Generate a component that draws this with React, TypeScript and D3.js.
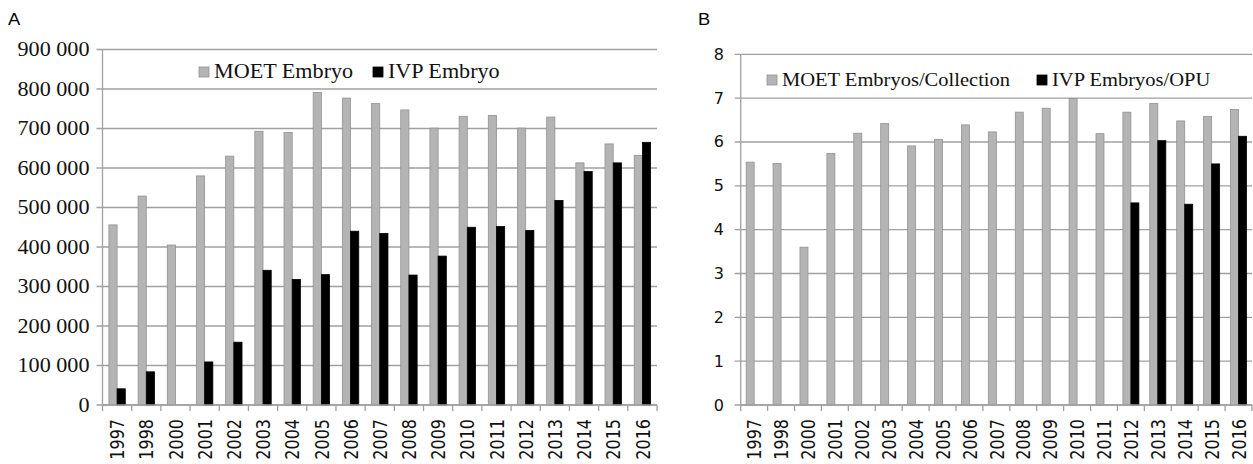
import React from "react";
import * as d3 from "d3";

// ---------- DATA ----------
const years = ["1997","1998","2000","2001","2002","2003","2004","2005","2006","2007","2008","2009","2010","2011","2012","2013","2014","2015","2016"];
const moetEmbryo = [456000, 529000, 405000, 580000, 630000, 693000, 690000, 791000, 777000, 763000, 747000, 701000, 731000, 733000, 701000, 729000, 613000, 661000, 632000];
const ivpEmbryo = [41000, 84000, 0, 109000, 159000, 341000, 318000, 330000, 440000, 434000, 329000, 377000, 450000, 452000, 442000, 518000, 591000, 613000, 665000];
const moetPerCollection = [5.54, 5.51, 3.6, 5.74, 6.2, 6.42, 5.91, 6.06, 6.39, 6.23, 6.68, 6.77, 6.99, 6.19, 6.68, 6.88, 6.48, 6.58, 6.74];
const ivpPerOpu = [null, null, null, null, null, null, null, null, null, null, null, null, null, null, 4.61, 6.03, 4.58, 5.5, 6.13];
const leftTicks = [0, 100000, 200000, 300000, 400000, 500000, 600000, 700000, 800000, 900000];
const rightTicks = [0, 1, 2, 3, 4, 5, 6, 7, 8];
const leftLegend = ["MOET Embryo", "IVP Embryo"];
const rightLegend = ["MOET Embryos/Collection", "IVP Embryos/OPU"];

const GRAY = "#b4b4b4";
const GRAY_EDGE = "#929292";
const GRID = "#a0a0a0";
const SERIF = "'Liberation Serif', 'Times New Roman', serif";
const SANS = "'DejaVu Sans', Verdana, sans-serif";

type PanelProps = {
  label: string;
  labelX: number;
  a: (number | null)[];
  b: (number | null)[];
  ticks: number[];
  fmt: (v: number) => string;
  tickFont: string;
  tickSize: number;
  tickScaleX: number;
  tickLabelX: number;
  left: number;
  right: number;
  top: number;
  bottom: number;
  barW: number;
  legend: string[];
  legendX: number[];
  legendBaseline: number;
  legendSize: number;
};

function Panel(p: PanelProps) {
  const x = d3.scaleBand<string>().domain(years).range([p.left, p.right]).padding(0);
  const y = d3.scaleLinear().domain([p.ticks[0], p.ticks[p.ticks.length - 1]]).range([p.bottom, p.top]);
  const bw = x.bandwidth();
  const boundaries = years.map((d) => x(d)!).concat([p.right]);
  return (
    <g>
      <text x={p.labelX} y={25} fontFamily="'Liberation Sans', Arial, sans-serif" fontSize={17} transform={`translate(${p.labelX},0) scale(1.08,1) translate(${-p.labelX},0)`}>{p.label}</text>
      {/* gridlines */}
      {p.ticks.map((t) => (
        <line key={"g" + t} x1={p.left - 6} x2={p.right} y1={y(t)} y2={y(t)} stroke={GRID} strokeWidth={1.3} />
      ))}
      {/* y axis line */}
      <line x1={p.left} x2={p.left} y1={p.top} y2={p.bottom} stroke={GRID} strokeWidth={1.3} />
      {/* x ticks */}
      {boundaries.map((bx, i) => (
        <line key={"xt" + i} x1={bx} x2={bx} y1={p.bottom} y2={p.bottom + 6} stroke={GRID} strokeWidth={1.3} />
      ))}
      {/* y tick labels */}
      {p.ticks.map((t) => (
        <text key={"yl" + t} transform={`translate(${p.tickLabelX},${y(t)}) scale(${p.tickScaleX},1)`} textAnchor="end" dominantBaseline="central" fontFamily={p.tickFont} fontSize={p.tickSize} fill="#111">{p.fmt(t)}</text>
      ))}
      {/* bars */}
      {years.map((yr, i) => {
        const cx = x(yr)! + bw / 2;
        const va = p.a[i];
        const vb = p.b[i];
        return (
          <g key={"b" + yr}>
            {va != null && va > 0 && (
              <rect x={cx - p.barW} y={y(va)} width={p.barW} height={p.bottom - y(va)} fill={GRAY} stroke={GRAY_EDGE} strokeWidth={0.8} />
            )}
            {vb != null && vb > 0 && (
              <rect x={cx} y={y(vb)} width={p.barW} height={p.bottom - y(vb)} fill="#000" stroke="#000" strokeWidth={0.8} />
            )}
          </g>
        );
      })}
      {/* bottom axis line */}
      <line x1={p.left} x2={p.right} y1={p.bottom} y2={p.bottom} stroke={GRID} strokeWidth={1.3} />
      {/* x labels */}
      {years.map((yr) => (
        <text key={"xl" + yr} transform={`translate(${x(yr)! + bw / 2},419) rotate(-90) scale(0.8,1)`} textAnchor="end" dominantBaseline="central" fontFamily={SANS} fontSize={20} fill="#111">{yr}</text>
      ))}
      {/* legend */}
      {p.legend.map((name, i) => (
        <g key={"lg" + i}>
          <rect x={p.legendX[i]} y={p.legendBaseline - 11} width={10} height={10} fill={i === 0 ? GRAY : "#000"} stroke={i === 0 ? GRAY_EDGE : "#000"} strokeWidth={0.8} />
          <text transform={`translate(${p.legendX[i] + 15},${p.legendBaseline}) scale(1.08,1)`} fontFamily={SERIF} fontSize={p.legendSize} fill="#111">{name}</text>
        </g>
      ))}
    </g>
  );
}

export default function App() {
  const spaceFmt = (v: number) => d3.format(",")(v).replace(/,/g, " ");
  return (
    <svg width={1253} height={464} style={{ position: "absolute", left: 0, top: 0, background: "#fff" }}>
      <rect width={1253} height={464} fill="#fff" />
      <Panel
        label="A"
        labelX={8}
        a={moetEmbryo}
        b={ivpEmbryo}
        ticks={leftTicks}
        fmt={spaceFmt}
        tickFont={SERIF}
        tickSize={20.5}
        tickScaleX={1.08}
        tickLabelX={89.5}
        left={102.5}
        right={657}
        top={49.5}
        bottom={405}
        barW={8.2}
        legend={leftLegend}
        legendX={[199, 373]}
        legendBaseline={78}
        legendSize={20.5}
      />
      <Panel
        label="B"
        labelX={698}
        a={moetPerCollection}
        b={ivpPerOpu}
        ticks={rightTicks}
        fmt={(v) => String(v)}
        tickFont={SANS}
        tickSize={16}
        tickScaleX={1}
        tickLabelX={724}
        left={740.7}
        right={1252}
        top={54.3}
        bottom={405}
        barW={8}
        legend={rightLegend}
        legendX={[767, 1037]}
        legendBaseline={86}
        legendSize={19}
      />
    </svg>
  );
}
